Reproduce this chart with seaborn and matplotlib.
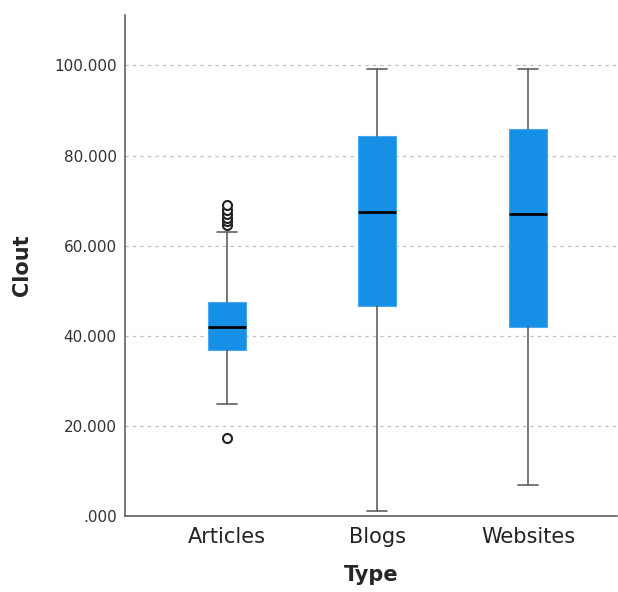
import matplotlib
matplotlib.use("Agg")
import matplotlib.pyplot as plt
import seaborn as sns
import pandas as pd
from matplotlib.ticker import FuncFormatter

# Clout scores by content type (five-number summaries read as Tukey boxes)
types = ["Articles", "Blogs", "Websites"]
whisker_low = [24.8, 1.0, 6.8]
q1 = [36.8, 46.5, 42.0]
median = [41.9, 67.4, 67.0]
q3 = [47.6, 84.4, 85.8]
whisker_high = [63.1, 99.2, 99.2]

# Individual outlying cases
outlier_type = ["Articles"] * 7
outlier_clout = [17.4, 64.6, 65.4, 66.2, 67.1, 68.0, 69.0]

y_ticks = [0, 20, 40, 60, 80, 100]

sns.set_style("white")
plt.rcParams["font.family"] = ["DejaVu Sans"]

fig = plt.figure(figsize=(6.18, 5.92), dpi=100)
ax = fig.add_axes([0.2023, 0.1284, 0.7957, 0.8463])

stats = []
for i, name in enumerate(types):
    stats.append(dict(label=name, whislo=whisker_low[i], q1=q1[i], med=median[i],
                      q3=q3[i], whishi=whisker_high[i], fliers=[]))

box_color = "#168fe6"
ax.bxp(stats, positions=range(len(types)), widths=0.25, capwidths=0.135,
       patch_artist=True, showfliers=False,
       boxprops=dict(facecolor=box_color, edgecolor="#4aa8ee", linewidth=0.8),
       medianprops=dict(color="black", linewidth=2.0),
       whiskerprops=dict(color="#606060", linewidth=1.2),
       capprops=dict(color="#606060", linewidth=1.2),
       zorder=3)

outliers = pd.DataFrame({"Type": outlier_type, "Clout": outlier_clout})
sns.stripplot(data=outliers, x="Type", y="Clout", order=types, jitter=False,
              color="white", edgecolor="#222222", linewidth=1.5, size=6.5,
              ax=ax, zorder=4)
ax.collections[-1].set_facecolor("none")

ax.set_xlim(-0.675, 2.59)
ax.set_ylim(0, 111.2)
ax.set_xticks(range(len(types)))
ax.set_xticklabels(types)
ax.set_yticks(y_ticks)
ax.yaxis.set_major_formatter(FuncFormatter(
    lambda v, p: f"{v:.3f}".lstrip("0") if v == 0 else f"{v:.3f}"))

ax.yaxis.grid(True, linestyle=(0, (2.5, 3.5)), color="#bdbdbd", linewidth=0.9)
ax.set_axisbelow(True)

ax.tick_params(axis="y", length=0, pad=6, labelsize=11, labelcolor="#333333")
ax.tick_params(axis="x", length=0, pad=8, labelsize=15, labelcolor="#222222")

ax.set_xlabel("Type", fontsize=15, fontweight="bold", labelpad=13)
ax.set_ylabel("Clout", fontsize=15, fontweight="bold", labelpad=16)

sns.despine(ax=ax)
for side in ("left", "bottom"):
    ax.spines[side].set_color("#555555")
    ax.spines[side].set_linewidth(1.1)

fig.savefig("out.png", dpi=100)
